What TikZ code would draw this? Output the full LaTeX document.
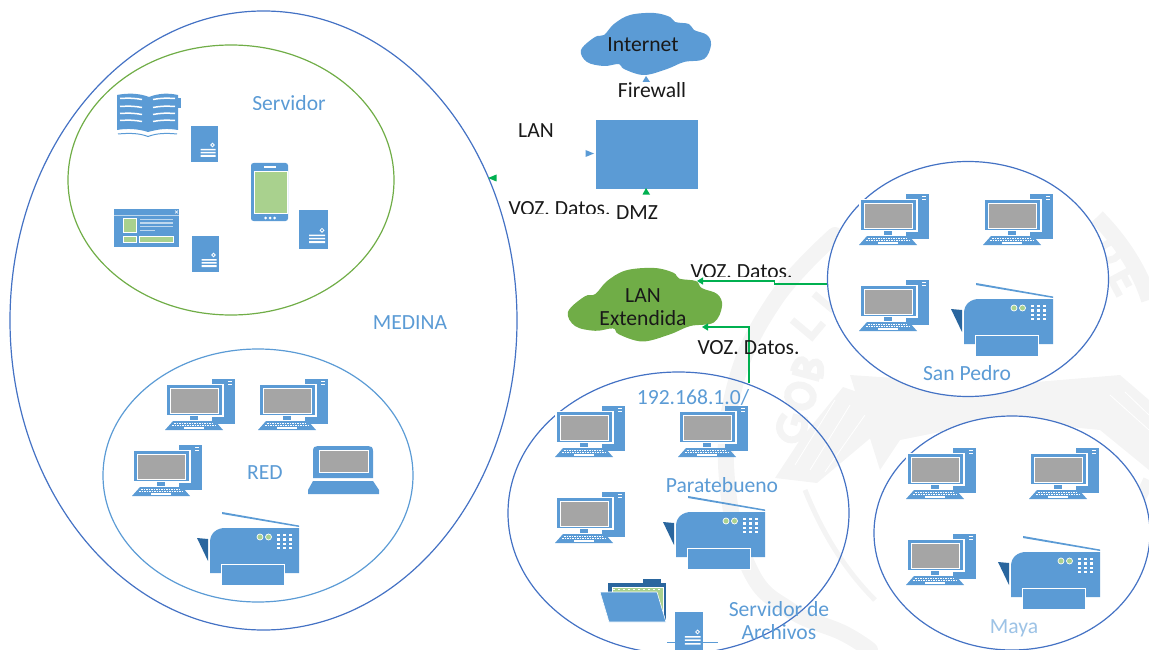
\documentclass[tikz,border=0pt]{standalone}
\usepackage{fontspec}
\setmainfont{Carlito}
\usetikzlibrary{shapes.geometric,arrows.meta}
\definecolor{bl}{HTML}{5B9BD5}
\definecolor{bd}{HTML}{4472C4}
\definecolor{dk}{HTML}{2A669E}
\definecolor{gr}{HTML}{70AD47}
\definecolor{lg}{HTML}{A9D18E}
\definecolor{sc}{HTML}{A5A5A5}
\definecolor{cn}{HTML}{00B050}
\definecolor{wm}{HTML}{F4F4F4}
\definecolor{pale}{HTML}{BDD7EE}
\newcommand{\cloudshape}{plot[smooth cycle,tension=.6] coordinates {(0,37)(14,24)(23,22)(33,11)(49,2)(73,0)(89,4)(94,9)(108,11)(113,17)(126,22)(130,32)(123,46)(103,49)(86,56)(63,62)(43,56)(38,51)(23,53)(6,49)}}
\tikzset{
 lbl/.style={inner sep=0pt,outer sep=0pt,align=center,font=\fontsize{21.6}{23}\selectfont},
 blk/.style={lbl,text=black!90},
 blu/.style={lbl,text=bl},
 zone/.style={ellipse,inner sep=0pt,outer sep=0pt,line width=1.2pt},
 link/.style={draw=cn,line width=1.2pt,-{Triangle[length=6pt,width=7pt]}},
 wmstroke/.style={draw=wm,line width=7pt},
 pics/computer/.style={code={
  \fill[bl] (47,1) rectangle (70,46);
  \draw[white,line width=1pt] (63,3.5)--(67,3.5) (63,6.5)--(67,6.5);
  \fill[white] (0,6) rectangle (59,39);
  \fill[bl] (2,7) rectangle (57,37);
  \fill[white] (5,10) rectangle (54,36);
  \fill[sc] (6,11) rectangle (53,35);
  \fill[white] (23,37) rectangle (35,43);
  \fill[bl] (25,38) rectangle (33,42);
  \fill[bl] (8,43)--(50,43)--(58,52)--(0,52)--cycle;
  \draw[white,line width=.8pt,dash pattern=on 1.5pt off 1pt] (9,45.2)--(49,45.2) (7,47.5)--(51,47.5);
  \draw[white,line width=1.1pt] (19,50)--(39,50);
 }},
 pics/printer/.style={code={
  \fill[bl] (25,0)--(102,13.5)--(102,15)--(25,2)--cycle;
  \fill[dk] (0,26)--(11,27)--(11,49)--cycle;
  \fill[bl] (13,61) -- (13,30) .. controls (13,21) and (20,16) .. (28,16) -- (102,16) -- (102,61) -- cycle;
  \fill[white] (24,52) rectangle (88,74);
  \fill[bl] (25,53) rectangle (87,73);
  \fill[lg,draw=white,line width=.7pt] (63,25) circle (3) (71.5,25) circle (3);
  \foreach \xx in {81.5,87.5,93.5} \foreach \yy in {23,27.5,32,36} \fill[white] (\xx-1.3,\yy-1.3) rectangle (\xx+1.3,\yy+1.3);
 }},
 pics/laptop/.style={code={
  \fill[bl] (5,32) -- (5,5) .. controls (5,1) and (7,0) .. (10,0) -- (60,0) .. controls (63,0) and (65,1) .. (65,5) -- (65,32) -- cycle;
  \fill[white] (11,4) rectangle (61,27);
  \fill[sc] (12,5) rectangle (60,26);
  \fill[bl] (5,35)--(65,35)--(71,44)--(71,48)--(0,48)--(0,44)--cycle;
 }},
 pics/server/.style={code={
  \fill[bl] (0,0) rectangle (27,36);
  \fill[bl,draw=white,line width=.8pt] (21.5,19) circle (1.8);
  \fill[white] (9.5,23) rectangle (24.5,24.5) (9.5,26) rectangle (24.5,27.5) (9.5,29) rectangle (24.5,31);
 }},
 pics/book/.style={code={
  \fill[bl] (61,4) rectangle (64,14);
  \fill[bl] (0,1) .. controls (10,-1) and (22,-1) .. (32,3) .. controls (42,-1) and (52,-1) .. (61,1) -- (61,36) .. controls (50,34) and (42,35) .. (31,38) .. controls (22,35) and (10,34) .. (0,36) -- cycle;
  \draw[white,line width=1.5pt] \foreach \yy in {5,13,20,27} {(3,\yy-.5) .. controls (10,\yy-1) and (18,\yy-1) .. (25,\yy+.5) (36,\yy+.5) .. controls (43,\yy-1) and (51,\yy-1) .. (58,\yy-.5)};
  \draw[bl,line width=1pt] (1,40) .. controls (12,39) and (22,39) .. (31,42.5) .. controls (40,39) and (50,39) .. (60,40);
 }},
 pics/webpage/.style={code={
  \fill[bl] (0,0) rectangle (65,38);
  \draw[pale,line width=.6pt] (0,6)--(65,6);
  \draw[white,line width=.6pt] (61,1.5)--(64,4.5) (61,4.5)--(64,1.5);
  \fill[lg,draw=white,line width=.8pt] (9,9) rectangle (22,23);
  \draw[pale,line width=1.2pt] (26,10.5)--(59,10.5) (26,14)--(59,14) (26,17.5)--(59,17.5) (26,21.5)--(41,21.5);
  \fill[lg,draw=white,line width=.8pt] (9,27) rectangle (22,33.5) (25,27) rectangle (59,33.5);
 }},
 pics/phone/.style={code={
  \fill[bl,rounded corners=2.5pt] (0,0) rectangle (37,58);
  \fill[lg,draw=white,line width=.8pt] (3.3,8) rectangle (36.7,50);
  \fill[white] (13,3.5) rectangle (25,5.5);
  \fill[white] (14.5,55) circle (1.5) (19,55) circle (1.5) (23.5,55) circle (1.5);
 }},
 pics/folder/.style={code={
  \fill[dk] (43,0) rectangle (61,6);
  \fill[dk] (8,4) rectangle (66,41);
  \fill[lg,draw=white,line width=.6pt] (12,8) rectangle (63,40);
  \draw[white,line width=1pt,dash pattern=on 2pt off 3pt] (13,10)--(60,10);
  \fill[bl,draw=white,line width=.6pt] (0,13)--(57,13)--(66,43)--(9,43)--cycle;
 }}
}
\begin{document}
\begin{tikzpicture}[x=1pt,y=-1pt]
\useasboundingbox (0,0) rectangle (1149,650);
\clip (0,0) rectangle (1149,650);
% pale seal in the background
\draw[wm,line width=16pt,line cap=round] plot[smooth,tension=.7] coordinates {(870,650)(843,633)(790,610)(750,570)(727,480)(735,385)(775,300)(835,235)};
\draw[wm,line width=16pt] (1097,217) .. controls (1120,240) and (1140,270) .. (1149,300);
\draw[wm,line width=5pt] (805,490) .. controls (825,540) and (850,575) .. (875,600);
\draw[wm,line width=12pt] (1149,480) .. controls (1135,510) and (1120,530) .. (1110,550);
\fill[wm] (843,387)--(880,400)--(880,430)--(817,483)--(775,478)--(800,440)--cycle;
\fill[wm] (850,375)--(1000,385)--(1120,375)--(1149,400)--(1149,470)--(1100,430)--(1000,420)--(900,440)--(880,470)--cycle;
\draw[white,line width=.8pt] (835,400)--(795,465) (850,405)--(810,470) (865,415)--(825,472);
\draw[white,line width=.8pt] (1110,395)--(1149,430) (1125,392)--(1149,415);
% watermark letters, drawn as strokes
\begin{scope}[shift={(776,433)},rotate=75]
 \draw[wmstroke] (20,4) .. controls (4,-4) and (-3,8) .. (-3,14) .. controls (-3,22) and (6,30) .. (20,24) -- (20,15) -- (12,15);
 \draw[wmstroke] (42,14) ellipse (11 and 13);
 \draw[wmstroke] (64,0) -- (64,28) (64,1) .. controls (82,0) and (82,13) .. (64,14) .. controls (84,14) and (84,28) .. (64,28);
\end{scope}
\begin{scope}[shift={(792,320)},rotate=50]
 \draw[wmstroke] (0,0) -- (0,26) -- (18,26) (34,0) -- (34,26);
\end{scope}
\begin{scope}[shift={(1122,245)},rotate=-62]
 \draw[wmstroke] (-8,0) -- (-8,26) (-8,1) .. controls (14,-2) and (14,28) .. (-8,26);
 \draw[wmstroke] (44,0) -- (26,0) -- (26,26) -- (44,26) (26,13) -- (40,13);
\end{scope}
% zones
\node[zone,draw=bd,minimum width=507pt,minimum height=619pt] (medina) at (263.5,320.5) {};
\node[zone,draw=gr,minimum width=326pt,minimum height=270pt] (servers) at (231,180) {};
\node[zone,draw=bl,minimum width=310pt,minimum height=253pt] (red) at (258,475.5) {};
\node[zone,draw=bd,minimum width=341pt,minimum height=282pt] (para) at (678.5,513) {};
\node[zone,draw=bd,fill=white,minimum width=281pt,minimum height=235pt] (sanpedro) at (968,279) {};
\node[zone,draw=bd,fill=white,minimum width=276pt,minimum height=234pt] (maya) at (1012,533) {};
% clouds
\fill[bl,shift={(581,13)}] \cloudshape;
\fill[gr,shift={(568,268)},scale=1.185] \cloudshape;
% firewall box
\node[fill=bl,inner sep=0pt,outer sep=0pt,minimum width=102pt,minimum height=69pt] (fw) at (647,154.5) {};
% free arrow heads
\fill[bl] (646,76)--(650,82)--(642.5,82)--cycle;
\fill[bl] (594,153.5)--(585.5,150)--(585.5,157)--cycle;
\fill[cn] (646,188)--(650,194.5)--(642.5,194.5)--cycle;
\fill[cn] (488,178)--(496.5,174.5)--(496.5,181.5)--cycle;
% connectors
\coordinate (spOut) at (827,284);
\coordinate (cloudA) at (697,281);
\coordinate (paraOut) at (749,383);
\coordinate (cloudB) at (702,327);
\draw[link] (spOut) -- (774.5,284) -- (774.5,281) -- (cloudA);
\draw[link] (paraOut) -- (749,327) -- (cloudB);
% icons
\pic at (117,94) {book};
\pic at (191,126) {server};
\pic at (114,209) {webpage};
\pic at (192,236) {server};
\pic at (251,163) {phone};
\pic[scale=1.07] at (299,210) {server};
\pic at (165,378) {computer};
\pic at (258,378) {computer};
\pic at (132,444) {computer};
\pic at (308,446) {laptop};
\pic at (197,512) {printer};
\pic at (555,405) {computer};
\pic at (678,405) {computer};
\pic at (555,491) {computer};
\pic at (663,496) {printer};
\pic at (600,579) {folder};
\pic[scale=1.05] at (675,612) {server};
\fill[bl] (667,641.5) rectangle (718,643);
\pic at (859,193) {computer};
\pic at (983,193) {computer};
\pic at (859,279) {computer};
\pic at (951,283) {printer};
\pic at (906,447) {computer};
\pic at (1029,447) {computer};
\pic at (906,533) {computer};
\pic at (998,536) {printer};
% labels
\node[blk] (tInternet) at (643,45) {Internet};
\node[blk] (tFirewall) at (652,90) {Firewall};
\node[blk] (tLan) at (536,131) {LAN};
\node[blk] (tDmz) at (637,213) {DMZ};
\node[blk] (tExt) at (643,307) {LAN\\Extendida};
\begin{scope}
\clip (500,195) rectangle (620,213.4);
\node[blk,anchor=base west] (tv1) at (508.5,215) {VOZ. Datos.};
\end{scope}
\begin{scope}
\clip (685,255) rectangle (800,276.8);
\node[blk,anchor=base west] (tv2) at (690.5,278) {VOZ. Datos.};
\end{scope}
\begin{scope}
\clip (690,332) rectangle (805,353.4);
\node[blk,anchor=base west] (tv3) at (697.5,354.7) {VOZ. Datos.};
\end{scope}
\begin{scope}
\clip (245,90) rectangle (335,110);
\node[blu,anchor=base] (tServ) at (289,111) {Servidor};
\end{scope}
\node[blu] (tMedina) at (410,323) {MEDINA};
\node[blu] (tRed) at (265,473) {RED};
\node[blu] (tIp) at (693,397) {192.168.1.0/};
\node[blu] (tPara) at (722,485) {Paratebueno};
\node[blu] (tArch) at (779,621) {Servidor de\\Archivos};
\node[blu] (tSp) at (967,373) {San Pedro};
\node[lbl,text=bl!60] (tMaya) at (1014,628) {Maya};
\end{tikzpicture}
\end{document}
